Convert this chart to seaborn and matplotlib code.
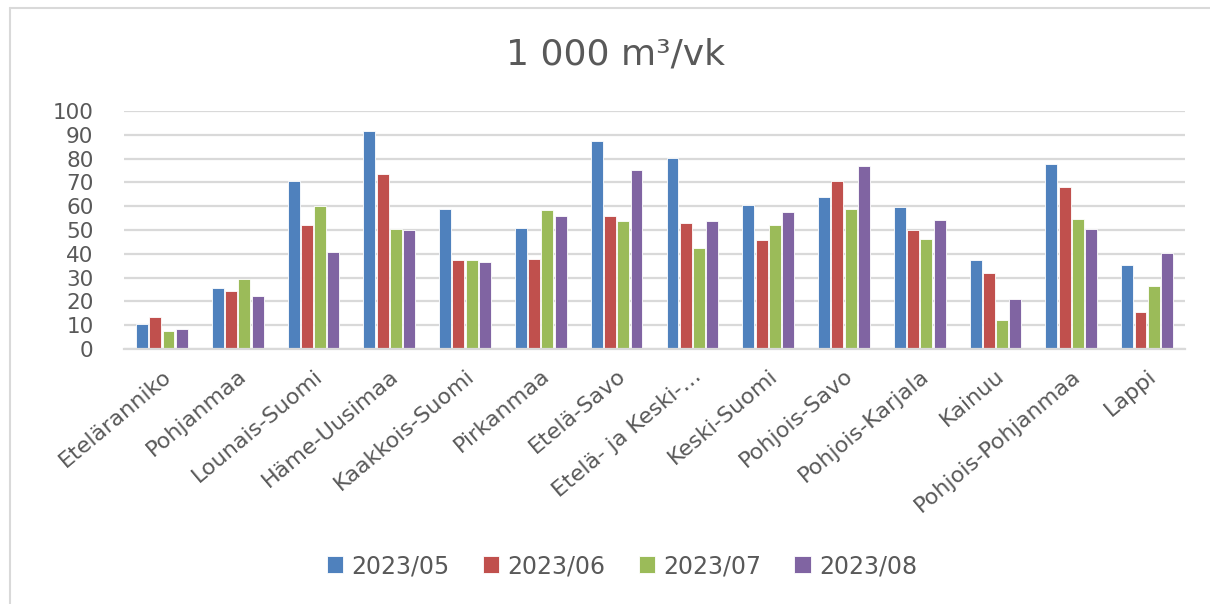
import matplotlib
matplotlib.use("Agg")
import pandas as pd
import seaborn as sns
import matplotlib.pyplot as plt
from matplotlib.lines import Line2D

regions = ["Eteläranniko", "Pohjanmaa", "Lounais-Suomi", "Häme-Uusimaa", "Kaakkois-Suomi",
           "Pirkanmaa", "Etelä-Savo", "Etelä- ja Keski-…", "Keski-Suomi", "Pohjois-Savo",
           "Pohjois-Karjala", "Kainuu", "Pohjois-Pohjanmaa", "Lappi"]
months = ["2023/05", "2023/06", "2023/07", "2023/08"]

v_2023_05 = [10.5, 25.6, 70.6, 91.8, 59.0, 51.0, 87.4, 80.1, 60.3, 64.0, 59.5, 37.2, 77.8, 35.4]
v_2023_06 = [13.4, 24.5, 52.2, 73.6, 37.2, 37.8, 56.0, 53.1, 45.6, 70.4, 50.0, 31.9, 68.1, 15.6]
v_2023_07 = [7.7, 29.5, 59.9, 50.4, 37.6, 58.2, 53.9, 42.4, 51.9, 59.0, 46.1, 12.2, 54.6, 26.6]
v_2023_08 = [8.5, 22.2, 40.6, 50.2, 36.7, 55.9, 75.4, 53.9, 57.5, 76.8, 54.0, 20.9, 50.5, 40.4]

colors = ["#4F81BD", "#C0504D", "#9BBB59", "#8064A2"]

rows = []
for m, vals in zip(months, [v_2023_05, v_2023_06, v_2023_07, v_2023_08]):
    for r, v in zip(regions, vals):
        rows.append({"Alue": r, "Kuukausi": m, "Arvo": v})
df = pd.DataFrame(rows)

sns.set_style("white")
plt.rcParams["font.family"] = ["DejaVu Sans"]
text_col = "#595959"

fig = plt.figure(figsize=(12.1, 6.04), dpi=100)
ax = fig.add_axes([124 / 1210, 1 - 349 / 604, (1185 - 124) / 1210, (349 - 111) / 604])

sns.barplot(data=df, x="Alue", y="Arvo", hue="Kuukausi", order=regions, hue_order=months,
            palette=colors, width=0.7, gap=0.1, edgecolor="white", linewidth=0.6,
            saturation=1, ax=ax)

ax.set_ylim(0, 100)
ax.set_yticks(range(0, 101, 10))
ax.yaxis.grid(True, color="#D9D9D9", linewidth=1.6)
ax.set_axisbelow(True)
for s in ["left", "right", "top"]:
    ax.spines[s].set_visible(False)
ax.spines["bottom"].set_color("#D9D9D9")
ax.spines["bottom"].set_linewidth(1.6)
ax.set_xlabel("")
ax.set_ylabel("")
ax.tick_params(axis="y", length=0, pad=22, labelsize=15.5, labelcolor=text_col)
ax.tick_params(axis="x", length=0, pad=12, labelsize=16, labelcolor=text_col)
plt.setp(ax.get_xticklabels(), rotation=40, ha="right", rotation_mode="anchor")

handles, labels = ax.get_legend_handles_labels()
ax.legend(handles, labels, loc="center", bbox_to_anchor=(622 / 1210, 1 - 566 / 604),
          bbox_transform=fig.transFigure, ncol=4, frameon=False, fontsize=17,
          handlelength=0.7, handleheight=0.7, handletextpad=0.35, columnspacing=1.4,
          labelcolor=text_col)

fig.text(615 / 1210, 1 - 55 / 604, "1 000 m³/vk", ha="center", va="center",
         fontsize=26, color=text_col)

# chart frame (left and top edges visible)
fig.add_artist(Line2D([10 / 1210, 10 / 1210], [0, 1 - 8 / 604], transform=fig.transFigure,
                      color="#D9D9D9", linewidth=1.5))
fig.add_artist(Line2D([10 / 1210, 1], [1 - 8 / 604, 1 - 8 / 604], transform=fig.transFigure,
                      color="#D9D9D9", linewidth=1.5))

fig.savefig("out.png", dpi=100)
